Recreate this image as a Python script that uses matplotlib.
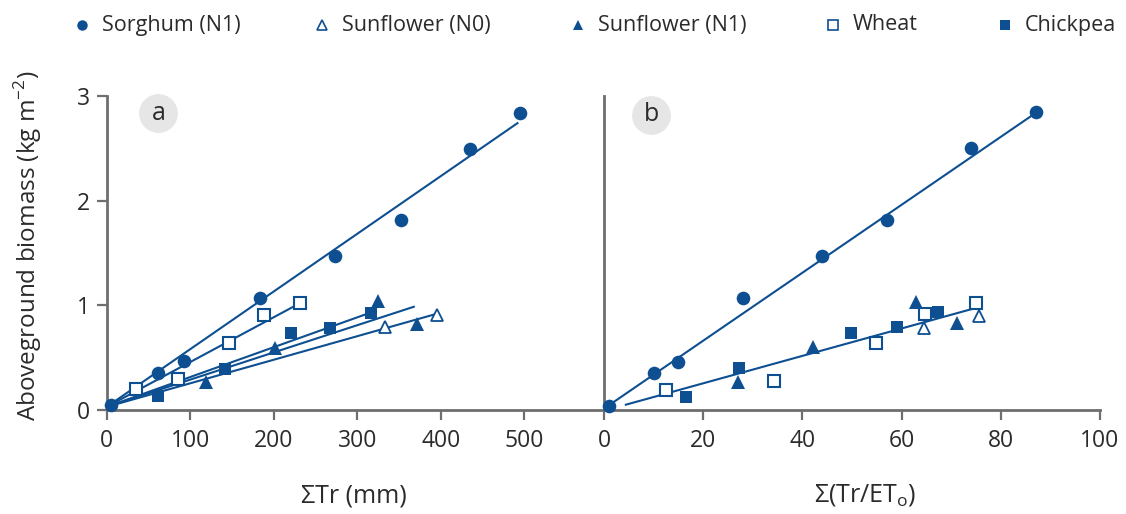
import matplotlib
matplotlib.use("Agg")
import matplotlib.pyplot as plt
from matplotlib.lines import Line2D
import numpy as np

plt.rcParams['font.family'] = ['Open Sans', 'DejaVu Sans']

BLUE = "#0d4f91"
GRAY = "#6e6e6e"
TXT = "#2b2b2b"

# ---- data: panel a (x = cumulative transpiration, mm) ----
sorghum_a_x = [5, 62, 92, 184, 274, 352, 435, 495]
sorghum_a_y = [0.05, 0.35, 0.47, 1.07, 1.47, 1.82, 2.49, 2.84]
wheat_a_x = [35, 85, 146, 188, 231]
wheat_a_y = [0.20, 0.30, 0.64, 0.91, 1.02]
chickpea_a_x = [62, 142, 221, 267, 317]
chickpea_a_y = [0.13, 0.39, 0.74, 0.78, 0.93]
sunN1_a_x = [119, 202, 325, 372]
sunN1_a_y = [0.27, 0.59, 1.04, 0.82]
sunN0_a_x = [333, 396]
sunN0_a_y = [0.79, 0.91]

# ---- data: panel b (x = cumulative Tr/ETo) ----
sorghum_b_x = [1, 10, 15, 28, 44, 57, 74, 87]
sorghum_b_y = [0.04, 0.35, 0.46, 1.07, 1.47, 1.82, 2.50, 2.85]
wheat_b_x = [12.6, 34.3, 54.8, 64.8, 75.1]
wheat_b_y = [0.19, 0.28, 0.64, 0.92, 1.02]
chickpea_b_x = [16.6, 27.2, 49.7, 59.1, 67.3]
chickpea_b_y = [0.12, 0.40, 0.74, 0.79, 0.94]
sunN1_b_x = [27.0, 42.1, 63.0, 71.2]
sunN1_b_y = [0.27, 0.60, 1.03, 0.83]
sunN0_b_x = [64.6, 75.6]
sunN0_b_y = [0.78, 0.90]

# ---- fitted lines: (intercept, slope, x_start, x_end) ----
fits_a = {
    "sorghum": (0.03, 0.00551, 4, 493),
    "wheat": (0.03, 0.00428, 4, 231.5),
    "chickpea": (0.03, 0.00285, 4, 319),
    "sunN1": (0.03, 0.00260, 4, 369),
    "sunN0": (0.03, 0.00225, 4, 395),
}
fits_b = {
    "sorghum": (0.013, 0.03246, 0.1, 87.3),
    "others": (-0.007, 0.0131, 4.2, 75.1),
}

legend_labels = ["Sorghum (N1)", "Sunflower (N0)", "Sunflower (N1)", "Wheat", "Chickpea"]
xticks_a = [0, 100, 200, 300, 400, 500]
xticks_b = [0, 20, 40, 60, 80, 100]
yticks = [0, 1, 2, 3]

W, H = 1126, 514
fig = plt.figure(figsize=(W / 100, H / 100), dpi=100)

def fx(px):
    return px / W

def fy(py):
    return 1 - py / H

ax_a = fig.add_axes([fx(106.7), fy(410), fx(604) - fx(106.7), fy(96) - fy(410)])
ax_b = fig.add_axes([fx(604), fy(410), fx(1100) - fx(604), fy(96) - fy(410)])

style = {
    "sorghum": dict(marker="o", ms=9.8, mfc=BLUE, mec=BLUE, mew=0),
    "wheat": dict(marker="s", ms=8.2, mfc="white", mec=BLUE, mew=1.5),
    "chickpea": dict(marker="s", ms=9.2, mfc=BLUE, mec=BLUE, mew=0),
    "sunN1": dict(marker="^", ms=9.5, mfc=BLUE, mec=BLUE, mew=0),
    "sunN0": dict(marker="^", ms=9.0, mfc="white", mec=BLUE, mew=1.3),
}

def draw_fit(ax, p):
    a, b, x0, x1 = p
    xs = np.array([x0, x1])
    ax.plot(xs, a + b * xs, color=BLUE, lw=1.5, zorder=2, solid_capstyle="butt")

for k, p in fits_a.items():
    draw_fit(ax_a, p)
for k, p in fits_b.items():
    draw_fit(ax_b, p)

series_a = [("wheat", wheat_a_x, wheat_a_y), ("chickpea", chickpea_a_x, chickpea_a_y),
            ("sunN1", sunN1_a_x, sunN1_a_y), ("sunN0", sunN0_a_x, sunN0_a_y),
            ("sorghum", sorghum_a_x, sorghum_a_y)]
series_b = [("wheat", wheat_b_x, wheat_b_y), ("chickpea", chickpea_b_x, chickpea_b_y),
            ("sunN1", sunN1_b_x, sunN1_b_y), ("sunN0", sunN0_b_x, sunN0_b_y),
            ("sorghum", sorghum_b_x, sorghum_b_y)]
for ax, series in ((ax_a, series_a), (ax_b, series_b)):
    for k, xs, ys in series:
        ax.plot(xs, ys, ls="none", zorder=3, clip_on=False, **style[k])

ax_a.set_xlim(0, (604 - 106.7) / 0.835)
ax_b.set_xlim(0, 100)
for ax in (ax_a, ax_b):
    ax.set_ylim(0, 3)
    for s in ("top", "right"):
        ax.spines[s].set_visible(False)
    for s in ("left", "bottom"):
        ax.spines[s].set_color(GRAY)
        ax.spines[s].set_linewidth(2.0)
    ax.tick_params(axis="both", direction="out", length=7, width=1.6, color=GRAY,
                   labelsize=16.5, labelcolor=TXT, pad=5)
    ax.tick_params(axis="x", pad=6.5)
    ax.set_facecolor("none")

ax_a.set_xticks(xticks_a)
ax_a.set_yticks(yticks)
ax_b.set_xticks(xticks_b)
ax_b.set_yticks([])

fig.text(fx(354), fy(496), "ΣTr (mm)", ha="center", va="center", fontsize=18, color=TXT)
fig.text(fx(865), fy(495), "Σ(Tr/ET$_\\mathregular{o}$)", ha="center", va="center",
         fontsize=18, color=TXT)
fig.text(fx(28), fy(246), "Aboveground biomass (kg m$^{\\mathregular{-2}}$)", rotation=90,
         ha="center", va="center", fontsize=17.5, color=TXT)

# panel letters
for ax, (cx, cy), lab in ((ax_a, (0.1038, 0.945), "a"), (ax_b, (0.0948, 0.94), "b")):
    ax.scatter([cx], [cy], s=780, color="#e6e6e6", transform=ax.transAxes, zorder=1,
               clip_on=False, linewidths=0)
    ax.text(cx, cy, lab, transform=ax.transAxes, ha="center", va="center",
            fontsize=18, color=TXT, zorder=2)

# legend (top row)
leg_keys = ["sorghum", "sunN0", "sunN1", "wheat", "chickpea"]
leg_mx = [82, 322, 578, 833, 1005]
leg_sizes = {"sorghum": 7.5, "sunN0": 7, "sunN1": 7.5, "wheat": 6.5, "chickpea": 7}
for key, lab, mx in zip(leg_keys, legend_labels, leg_mx):
    st = dict(style[key])
    st["ms"] = leg_sizes[key]
    if st["mew"]:
        st["mew"] = 1.2
    fig.add_artist(Line2D([fx(mx)], [fy(25)], transform=fig.transFigure, ls="none", **st))
    fig.text(fx(mx + 20), fy(25), lab, ha="left", va="center", fontsize=15.5, color=TXT)

fig.savefig("out.png", dpi=100)
